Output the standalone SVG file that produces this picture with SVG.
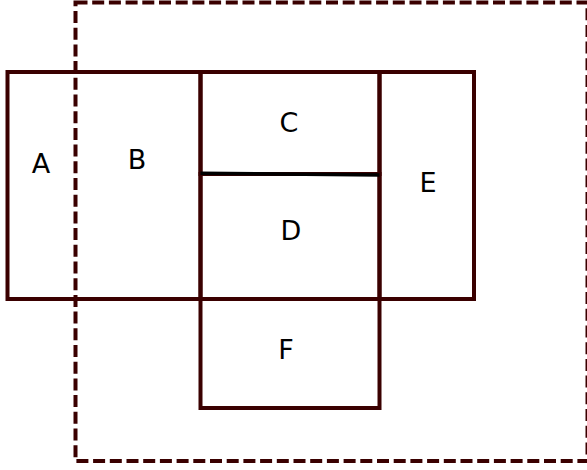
<svg xmlns="http://www.w3.org/2000/svg" width="587" height="470" viewBox="0 0 587 470">
<style>
.box{fill:none;stroke:#3a0000;stroke-width:4}
.dash{fill:none;stroke:#3a0000;stroke-width:4;stroke-dasharray:12,4.7}
text{font-family:"DejaVu Sans",sans-serif;font-size:27px;fill:#000;text-anchor:middle}
</style>
<rect width="587" height="470" fill="#fff"/>
<g id="outer"><rect class="dash" x="75.5" y="2.5" width="512" height="458.5"/></g>
<g id="A"><rect class="box" x="7.5" y="72" width="193" height="227"/><text x="41" y="173">A</text></g>
<g id="B"><text x="137" y="169">B</text></g>
<g id="C"><rect class="box" x="200.5" y="72" width="179" height="102"/><text x="289" y="132">C</text></g>
<g id="D"><rect class="box" x="200.5" y="174" width="179" height="125"/><text x="291" y="240">D</text></g>
<g id="E"><rect class="box" x="379.5" y="72" width="94.5" height="227"/><text x="428" y="192">E</text></g>
<g id="F"><rect class="box" x="200.5" y="299" width="179" height="109"/><text x="286" y="359">F</text></g>
<g id="connectors"><line x1="200.5" y1="173.3" x2="379.5" y2="175" stroke="#000" stroke-width="3.5"/></g>
</svg>
